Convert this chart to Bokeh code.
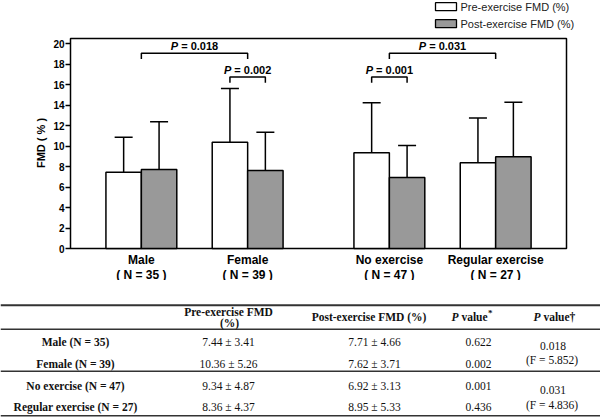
import math
from bokeh.plotting import figure
from bokeh.models import Range1d, FixedTicker, LinearAxis
from bokeh.layouts import column
from bokeh.embed import file_html
from bokeh.resources import INLINE
from bokeh.core.properties import value

# ---------------- data ----------------
groups = ["Male", "Female", "No exercise", "Regular exercise"]
group_n = ["( N = 35 )", "( N = 39 )", "( N = 47 )", "( N = 27 )"]
pre_mean = [7.44, 10.36, 9.34, 8.36]
pre_sd = [3.41, 5.26, 4.87, 4.37]
post_mean = [7.71, 7.62, 6.92, 8.95]
post_sd = [4.66, 3.71, 3.13, 5.33]
series_names = ["Pre-exercise FMD (%)", "Post-exercise FMD (%)"]
y_ticks = [0, 2, 4, 6, 8, 10, 12, 14, 16, 18, 20]
y_title = "FMD ( % )"
bracket_p = ["0.018", "0.002", "0.001", "0.031"]

table_rows = ["Male (N = 35)", "Female (N = 39)", "No exercise (N = 47)", "Regular exercise (N = 27)"]
table_headers = ["Pre-exercise FMD", "(%)", "Post-exercise FMD (%)"]
p_within = ["0.622", "0.002", "0.001", "0.436"]
p_between = ["0.018", "0.031"]
f_between = ["5.852", "4.836"]

# ---------------- chart ----------------
XS = 35.43   # px per x unit
YS = 10.25   # px per y unit


def fx(rx):
    return (rx - 70) / XS


def fy(ry):
    return (248 - ry) / YS


SANS = "Liberation Sans"
SERIF = "Liberation Serif"

p = figure(width=600, height=280,
           x_range=Range1d(fx(0), fx(600)), y_range=Range1d(fy(280), fy(0)),
           output_backend="svg", toolbar_location=None,
           x_axis_location=None, y_axis_location=None,
           min_border_left=0, min_border_right=0, min_border_top=0, min_border_bottom=0)
p.outline_line_color = None
p.grid.visible = False
p.background_fill_color = "white"
p.border_fill_color = "white"

ax = LinearAxis(fixed_location=0)
ax.ticker = FixedTicker(ticks=y_ticks)
ax.axis_line_color = None
ax.major_tick_out = 5
ax.major_tick_in = 0
ax.minor_tick_out = 0
ax.minor_tick_in = 0
ax.major_tick_line_width = 1.5
ax.major_tick_line_color = "black"
ax.major_label_text_font = SANS
ax.major_label_text_font_style = "bold"
ax.major_label_text_font_size = "10px"
ax.major_label_text_color = "black"
ax.major_label_standoff = 1
p.add_layout(ax, "left")

p.text(x=[fx(40.7)], y=[fy(142.5)], text=[y_title], angle=math.pi / 2,
       text_font=value(SANS), text_font_style="bold", text_font_size="11px",
       text_align="center", text_baseline="middle", text_color="black")

group_x = [2, 5, 9, 12]
pre_x = [g - 0.5 for g in group_x]
post_x = [g + 0.5 for g in group_x]
POST_COLOR = "#999999"

# frame box
p.quad(left=0, right=fx(566), bottom=0, top=fy(38), fill_color=None,
       line_color="black", line_width=1.5)

cap = 9 / XS
for xs, means, sds in ((pre_x, pre_mean, pre_sd), (post_x, post_mean, post_sd)):
    tops = [m + s for m, s in zip(means, sds)]
    p.segment(x0=xs, y0=means, x1=xs, y1=tops, line_color="black", line_width=1.5)
    p.segment(x0=[x - cap for x in xs], y0=tops, x1=[x + cap for x in xs], y1=tops,
              line_color="black", line_width=1.5)

p.vbar(x=pre_x, width=1, top=pre_mean, bottom=0, fill_color="white",
       line_color="black", line_width=1.5)
p.vbar(x=post_x, width=1, top=post_mean, bottom=0, fill_color=POST_COLOR,
       line_color="black", line_width=1.5)

# significance brackets
outer_y = fy(52.7)
inner_y = fy(76.5)
drop = 5.8 / YS
brackets = [
    (group_x[0], group_x[1], outer_y, bracket_p[0]),
    (pre_x[1], post_x[1], inner_y, bracket_p[1]),
    (pre_x[2], post_x[2], inner_y, bracket_p[2]),
    (group_x[2], group_x[3], outer_y, bracket_p[3]),
]
p.multi_line(xs=[[a, a, b, b] for a, b, _, _ in brackets],
             ys=[[y - drop, y, y, y - drop] for _, _, y, _ in brackets],
             line_color="black", line_width=1.5)
lab_x = [(a + b) / 2 for a, b, _, _ in brackets]
lab_y = [y + 7.3 / YS for _, _, y, _ in brackets]
p.text(x=lab_x, y=lab_y, text=["P"] * 4, x_offset=-23.7,
       text_font=value(SANS), text_font_style="bold italic", text_font_size="11px",
       text_align="left", text_baseline="middle", text_color="black")
p.text(x=lab_x, y=lab_y, text=["= " + s for _, _, _, s in brackets], x_offset=-13.3,
       text_font=value(SANS), text_font_style="bold", text_font_size="11px",
       text_align="left", text_baseline="middle", text_color="black")

# category labels
p.text(x=group_x, y=[fy(259.5)] * 4, text=groups, text_font=value(SANS),
       text_font_style="bold", text_font_size="12px", text_align="center",
       text_baseline="middle", text_color="black")
p.text(x=group_x, y=[fy(274)] * 4, text=group_n, text_font=value(SANS),
       text_font_style="bold", text_font_size="12px", text_align="center",
       text_baseline="middle", text_color="black")

# legend
leg_y = [fy(6.2), fy(23.2)]
p.rect(x=[fx(445.5)] * 2, y=leg_y, width=21, height=8, width_units="screen",
       height_units="screen", fill_color=["white", POST_COLOR], line_color="black",
       line_width=1.3)
p.text(x=[fx(460)] * 2, y=leg_y, text=series_names, text_font=value(SANS),
       text_font_size="11px", text_align="left", text_baseline="middle",
       text_color="#222222")

# ---------------- table ----------------
t = figure(width=600, height=138, x_range=Range1d(0, 600), y_range=Range1d(418, 280),
           output_backend="svg", toolbar_location=None,
           x_axis_location=None, y_axis_location=None,
           min_border_left=0, min_border_right=0, min_border_top=0, min_border_bottom=0)
t.outline_line_color = None
t.grid.visible = False
t.background_fill_color = "white"
t.border_fill_color = "white"

line_y = [304.7, 328.7, 370.7, 415.3]
t.segment(x0=[0] * 4, x1=[600] * 4, y0=line_y, y1=line_y, line_color="#333333",
          line_width=[2, 1.5, 1.5, 1.5])

row_y = [341.3, 363.7, 385.3, 406.3]
TXT = "#111111"
t.text(x=[75] * 4, y=row_y, text=table_rows, text_font=value(SERIF),
       text_font_style="bold", text_font_size="11.5px", text_align="center",
       text_baseline="middle", text_color=TXT)

t.text(x=[228, 229, 368.5], y=[311.3, 322.5, 316.5], text=table_headers,
       text_font=value(SERIF), text_font_style="bold", text_font_size="11.5px",
       text_align="center", text_baseline="middle", text_color=TXT)
# P value headers
t.text(x=[451, 533], y=[316.5, 316.5], text=["P", "P"], text_font=value(SERIF),
       text_font_style="bold italic", text_font_size="11.5px", text_align="left",
       text_baseline="middle", text_color=TXT)
t.text(x=[460.9, 542.9], y=[316.5, 316.5], text=["value", "value\u2020"],
       text_font=value(SERIF), text_font_style="bold", text_font_size="11.5px",
       text_align="left", text_baseline="middle", text_color=TXT)
t.text(x=[487.5], y=[312.0], text=["*"], text_font=value(SERIF),
       text_font_style="bold", text_font_size="9px", text_align="left",
       text_baseline="middle", text_color=TXT)

pre_txt = [f"{m:.2f} \u00b1 {s:.2f}" for m, s in zip(pre_mean, pre_sd)]
post_txt = [f"{m:.2f} \u00b1 {s:.2f}" for m, s in zip(post_mean, post_sd)]
t.text(x=[228] * 4, y=row_y, text=pre_txt, text_font=value(SERIF),
       text_font_size="11.5px", text_align="center", text_baseline="middle",
       text_color=TXT)
t.text(x=[374] * 4, y=row_y, text=post_txt, text_font=value(SERIF),
       text_font_size="11.5px", text_align="center", text_baseline="middle",
       text_color=TXT)
t.text(x=[478] * 4, y=row_y, text=p_within, text_font=value(SERIF),
       text_font_size="11.5px", text_align="center", text_baseline="middle",
       text_color=TXT)
t.text(x=[552.5] * 2, y=[345.0, 389.0], text=p_between, text_font=value(SERIF),
       text_font_size="11.5px", text_align="center", text_baseline="middle",
       text_color=TXT)
t.text(x=[551.5] * 2, y=[359.0, 404.0], text=[f"(F = {f})" for f in f_between],
       text_font=value(SERIF), text_font_size="11.5px", text_align="center",
       text_baseline="middle", text_color=TXT)

layout = column(p, t, spacing=0)
open("out.html", "w").write(file_html(layout, INLINE))
